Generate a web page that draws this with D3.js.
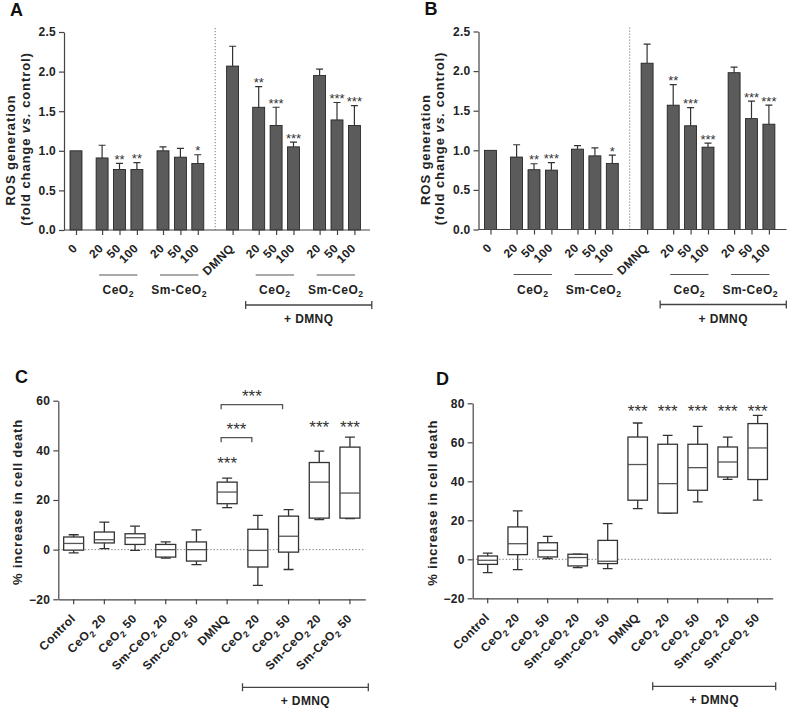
<!DOCTYPE html>
<html>
<head>
<meta charset="utf-8">
<script src="https://cdn.jsdelivr.net/npm/d3@7"></script>
<style>
  body { margin: 0; background: #fff; }
  svg { display: block; font-family: "Liberation Sans", Arial, Helvetica, sans-serif; }
</style>
</head>
<body>
<svg id="fig" width="787" height="709"></svg>
<script>
// ---- panels A / B : ROS generation bars ----
const rosLabels = ["0", "20", "50", "100", "20", "50", "100", "DMNQ", "20", "50", "100", "20", "50", "100"];
const rosGroup = [0, 1, 1, 1, 2, 2, 2, 3, 4, 4, 4, 5, 5, 5];
const rosTicks = [0, 0.5, 1.0, 1.5, 2.0, 2.5];

const rosMeanA = [1.00, 0.91, 0.765, 0.765, 1.00, 0.92, 0.84, 2.07, 1.55, 1.32, 1.05, 1.95, 1.39, 1.32];
const rosTopA = [1.00, 1.07, 0.84, 0.85, 1.05, 1.03, 0.95, 2.32, 1.81, 1.55, 1.11, 2.03, 1.61, 1.57];
const rosStarsA = ["", "", "**", "**", "", "", "*", "", "**", "***", "***", "", "***", "***"];

const rosMeanB = [1.00, 0.915, 0.755, 0.75, 1.015, 0.93, 0.835, 2.10, 1.57, 1.31, 1.04, 1.98, 1.40, 1.33];
const rosTopB = [1.00, 1.07, 0.83, 0.845, 1.06, 1.03, 0.94, 2.34, 1.83, 1.54, 1.09, 2.05, 1.62, 1.57];
const rosStarsB = ["", "", "**", "***", "", "", "*", "", "**", "***", "***", "", "***", "***"];

// underlined sub-groups (first / last bar index)
const rosSubGroups = [
  { name: "CeO_2", first: 1, last: 3 },
  { name: "Sm-CeO_2", first: 4, last: 6 },
  { name: "CeO_2", first: 8, last: 10 },
  { name: "Sm-CeO_2", first: 11, last: 13 }
];

// ---- panels C / D : cell death box plots [min, q1, median, q3, max] ----
const deathLabels = ["Control", "CeO_2 20", "CeO_2 50", "Sm-CeO_2 20", "Sm-CeO_2 50",
                     "DMNQ", "CeO_2 20", "CeO_2 50", "Sm-CeO_2 20", "Sm-CeO_2 50"];

const deathC = [
  [-1.3, -0.2, 2.5, 5.1, 6.0],
  [0.4, 2.7, 4.0, 7.1, 11.1],
  [-0.3, 2.1, 4.8, 6.4, 9.5],
  [-3.4, -3.0, 0.0, 2.1, 3.1],
  [-6.0, -4.6, 0.0, 3.1, 8.0],
  [16.9, 18.5, 23.2, 27.2, 28.8],
  [-14.4, -7.0, -0.3, 8.2, 13.8],
  [-8.0, -1.0, 5.4, 13.5, 16.1],
  [12.1, 12.7, 27.2, 35.1, 39.7],
  [12.5, 12.7, 22.8, 41.3, 45.3]
];
const deathTicksC = [-20, 0, 20, 40, 60];
const starsC = [{ i: 5, v: 32.4 }, { i: 8, v: 47 }, { i: 9, v: 47 }];
const bracketsC = [{ from: 5, to: 6, v: 45.1 }, { from: 5, to: 7, v: 58.4 }];

const deathD = [
  [-6.8, -2.6, -0.5, 1.7, 3.2],
  [-5.3, 2.4, 8.0, 16.6, 24.8],
  [0.3, 1.2, 4.6, 8.5, 11.8],
  [-4.3, -3.4, 0.9, 2.6, 2.6],
  [-4.8, -2.2, -1.0, 9.7, 18.3],
  [26.0, 30.3, 48.6, 62.7, 69.9],
  [23.7, 23.7, 38.8, 59.0, 63.6],
  [29.4, 35.4, 47.0, 59.0, 68.2],
  [41.0, 42.2, 49.9, 57.6, 62.7],
  [30.3, 40.9, 57.1, 69.6, 73.8]
];
const deathTicksD = [-20, 0, 20, 40, 60, 80];
const starsD = [{ i: 5, v: 73.2 }, { i: 6, v: 73.2 }, { i: 7, v: 73.2 }, { i: 8, v: 73.2 }, { i: 9, v: 73.2 }];
const bracketsD = [];

const svg = d3.select("#fig");
const INK = "#222";
const AXIS = "#444";
const BAR = "#5b5b5b";

// text with "_2" written as a subscript 2
function richText(sel, str, size) {
  const parts = str.split("_2");
  sel.append("tspan").text(parts[0]);
  for (let i = 1; i < parts.length; i++) {
    sel.append("tspan").attr("font-size", size * 0.72).attr("dy", size * 0.28).text("2");
    sel.append("tspan").attr("dy", -size * 0.28).text(parts[i]);
  }
}

function styleAxis(g) {
  g.attr("font-family", null).attr("font-size", null);
  g.selectAll("path, line").attr("stroke", AXIS).attr("stroke-width", 1.2);
  g.selectAll("text").attr("fill", INK).attr("font-size", 12).attr("font-weight", "bold")
    .attr("letter-spacing", 0.3);
}

function dmnqBracket(g, x1, x2, yb) {
  g.append("path")
    .attr("d", `M${x1},${yb - 4}V${yb + 4}M${x1},${yb}H${x2}M${x2},${yb - 4}V${yb + 4}`)
    .attr("stroke", AXIS).attr("stroke-width", 1.3).attr("fill", "none");
  g.append("text").attr("x", (x1 + x2) / 2).attr("y", yb + 18)
    .attr("text-anchor", "middle").attr("font-size", 12).attr("font-weight", "bold")
    .attr("letter-spacing", 0.4).attr("fill", INK).text("+ DMNQ");
}

function rosPanel(dx, dy, letter, means, tops, stars, axisEnd) {
  const g = svg.append("g").attr("transform", `translate(${dx},${dy})`);
  const y = d3.scaleLinear().domain([0, 2.5]).range([230, 32]);
  const unit = 17.4;
  // slot index: 1 within a group, 1.5 between groups, 2 across the DMNQ divider
  const slots = [];
  let s = 0;
  rosGroup.forEach((grp, i) => {
    if (i > 0) s += grp === rosGroup[i - 1] ? 1 : (grp === 3 ? 2 : 1.5);
    slots.push(s);
  });
  const x = d3.scaleLinear().domain([0, 1]).range([76, 76 + unit]);
  const bw = 12;

  g.append("text").attr("x", 10).attr("y", 15.5).attr("font-size", 18).attr("font-weight", "bold")
    .attr("fill", "#111").text(letter);

  // y title
  g.append("text").attr("transform", "translate(15,150) rotate(-90)")
    .attr("text-anchor", "middle").attr("font-size", 13).attr("font-weight", "bold")
    .attr("letter-spacing", 0.9).attr("fill", INK).text("ROS generation");
  const t2 = g.append("text").attr("transform", "translate(29.5,139) rotate(-90)")
    .attr("text-anchor", "middle").attr("font-size", 13).attr("font-weight", "bold")
    .attr("letter-spacing", 0.9).attr("fill", INK);
  t2.append("tspan").text("(fold change ");
  t2.append("tspan").attr("font-style", "italic").text("vs.");
  t2.append("tspan").text(" control)");

  // divider between untreated and DMNQ-treated
  g.append("line").attr("x1", x(8)).attr("x2", x(8)).attr("y1", 28).attr("y2", 230)
    .attr("stroke", "#777").attr("stroke-width", 1).attr("stroke-dasharray", "1.2,1.8");

  // bars
  g.selectAll("rect.bar").data(means).join("rect").attr("class", "bar")
    .attr("x", (d, i) => x(slots[i]) - bw / 2).attr("width", bw)
    .attr("y", d => y(d)).attr("height", d => y(0) - y(d))
    .attr("fill", BAR).attr("stroke", "#1a1a1a").attr("stroke-width", 0.8);

  // error bars (upper only)
  g.selectAll("path.err").data(tops).join("path").attr("class", "err")
    .attr("d", (d, i) => d > means[i]
      ? `M${x(slots[i])},${y(means[i])}V${y(d)}M${x(slots[i]) - 3.5},${y(d)}H${x(slots[i]) + 3.5}`
      : "")
    .attr("stroke", "#333").attr("stroke-width", 1.2).attr("fill", "none");

  // significance
  g.selectAll("text.star").data(stars).join("text").attr("class", "star")
    .attr("x", (d, i) => x(slots[i])).attr("y", (d, i) => y(tops[i]) + 0.5)
    .attr("text-anchor", "middle").attr("font-size", 13).attr("fill", "#333").text(d => d);

  // axes
  const ya = g.append("g").attr("transform", "translate(64,0)")
    .call(d3.axisLeft(y).tickValues(rosTicks).tickFormat(d3.format(".1f")).tickSize(5).tickSizeOuter(0));
  styleAxis(ya);
  const xa = g.append("g").attr("transform", "translate(0,230)")
    .call(d3.axisBottom(x).tickValues(slots).tickFormat("").tickSize(5).tickSizeOuter(0));
  xa.select(".domain").remove();
  xa.append("line").attr("x1", 64).attr("x2", axisEnd).attr("y1", 0).attr("y2", 0);
  styleAxis(xa);

  g.selectAll("text.xl").data(rosLabels).join("text").attr("class", "xl")
    .attr("transform", (d, i) => `translate(${x(slots[i]) + 2},${249}) rotate(-45)`)
    .attr("text-anchor", "end").attr("font-size", 12).attr("font-weight", "bold")
    .attr("letter-spacing", 0.4).attr("fill", INK).text(d => d);

  rosSubGroups.forEach(sg => {
    const x1 = x(slots[sg.first]) - 3, x2 = x(slots[sg.last]) + 0.5;
    g.append("line").attr("x1", x1).attr("x2", x2).attr("y1", 275).attr("y2", 275)
      .attr("stroke", "#555").attr("stroke-width", 1.2);
    const t = g.append("text").attr("x", (x1 + x2) / 2).attr("y", 294)
      .attr("text-anchor", "middle").attr("font-size", 12).attr("font-weight", "bold")
      .attr("letter-spacing", 0.5).attr("fill", INK);
    richText(t, sg.name, 12);
  });

  dmnqBracket(g, x(slots[8] - 0.75), x(slots[13] + 1), 305);
}

function boxPanel(letter, data, ticks, stars, brackets, o) {
  const g = svg.append("g");
  const y = d3.scaleLinear().domain([ticks[0], ticks[ticks.length - 1]]).range([o.yBottom, o.yTop]);
  const x = d3.scaleBand().domain(d3.range(data.length)).range([o.xLeft, o.xRight]);
  const bw = x.bandwidth() * 0.65;
  const cx = i => x(i) + x.bandwidth() / 2;

  g.append("text").attr("x", o.letterX).attr("y", o.letterY).attr("font-size", 18)
    .attr("font-weight", "bold").attr("fill", "#111").text(letter);

  g.append("text").attr("transform", `translate(${o.titleX},${(o.yTop + o.yBottom) / 2 + 2}) rotate(-90)`)
    .attr("text-anchor", "middle").attr("font-size", 13).attr("font-weight", "bold")
    .attr("letter-spacing", 0.8).attr("fill", INK).text("% increase in cell death");

  // zero reference
  g.append("line").attr("x1", o.xLeft).attr("x2", o.xRight).attr("y1", y(0)).attr("y2", y(0))
    .attr("stroke", "#888").attr("stroke-width", 1).attr("stroke-dasharray", "1.5,1.8");

  const box = g.selectAll("g.box").data(data).join("g").attr("class", "box");
  box.append("path")
    .attr("d", (d, i) => `M${cx(i)},${y(d[0])}V${y(d[1])}M${cx(i)},${y(d[3])}V${y(d[4])}` +
      `M${cx(i) - bw / 4},${y(d[0])}H${cx(i) + bw / 4}M${cx(i) - bw / 4},${y(d[4])}H${cx(i) + bw / 4}`)
    .attr("stroke", "#333").attr("stroke-width", 1.3).attr("fill", "none");
  box.append("rect")
    .attr("x", (d, i) => cx(i) - bw / 2).attr("width", bw)
    .attr("y", d => y(d[3])).attr("height", d => y(d[1]) - y(d[3]))
    .attr("fill", "#fff").attr("stroke", "#333").attr("stroke-width", 1.3);
  box.append("line")
    .attr("x1", (d, i) => cx(i) - bw / 2).attr("x2", (d, i) => cx(i) + bw / 2)
    .attr("y1", d => y(d[2])).attr("y2", d => y(d[2]))
    .attr("stroke", "#555").attr("stroke-width", 1.3);

  g.selectAll("text.star").data(stars).join("text").attr("class", "star")
    .attr("x", d => cx(d.i)).attr("y", d => y(d.v))
    .attr("text-anchor", "middle").attr("font-size", 17).attr("fill", "#333").text("***");

  brackets.forEach(b => {
    const x1 = cx(b.from) - 6, x2 = cx(b.to) - 6, yb = y(b.v);
    g.append("path").attr("d", `M${x1},${yb + 4.5}V${yb}H${x2}V${yb + 4.5}`)
      .attr("stroke", "#555").attr("stroke-width", 1.3).attr("fill", "none");
    g.append("text").attr("x", (x1 + x2) / 2).attr("y", yb - 3)
      .attr("text-anchor", "middle").attr("font-size", 17).attr("fill", "#333").text("***");
  });

  const ya = g.append("g").attr("transform", `translate(${o.xLeft},0)`)
    .call(d3.axisLeft(y).tickValues(ticks).tickSize(5).tickSizeOuter(0));
  styleAxis(ya);
  const xa = g.append("g").attr("transform", `translate(0,${o.yBottom})`)
    .call(d3.axisBottom(x).tickFormat("").tickSize(5).tickSizeOuter(0));
  styleAxis(xa);

  g.selectAll("text.xl").data(deathLabels).join("text").attr("class", "xl")
    .attr("transform", (d, i) => `translate(${cx(i) + 2.5},${o.yBottom + 20}) rotate(-45)`)
    .attr("text-anchor", "end").attr("font-size", 12).attr("font-weight", "bold")
    .attr("letter-spacing", 0.4).attr("fill", INK)
    .each(function (d) { richText(d3.select(this), d, 12); });

  dmnqBracket(g, x(6), x(9) + x.bandwidth() + 3, o.yBottom + 88);
}

rosPanel(0, 0, "A", rosMeanA, rosTopA, rosStarsA, 370);
rosPanel(414.5, -0.5, "B", rosMeanB, rosTopB, rosStarsB, 372);

boxPanel("C", deathC, deathTicksC, starsC, bracketsC,
  { xLeft: 58.3, xRight: 365.3, yTop: 400.7, yBottom: 599.3, letterX: 15, letterY: 383, titleX: 22 });
boxPanel("D", deathD, deathTicksD, starsD, bracketsD,
  { xLeft: 472.7, xRight: 772.7, yTop: 403.3, yBottom: 598.3, letterX: 436, letterY: 385, titleX: 436.5 });
</script>
</body>
</html>
